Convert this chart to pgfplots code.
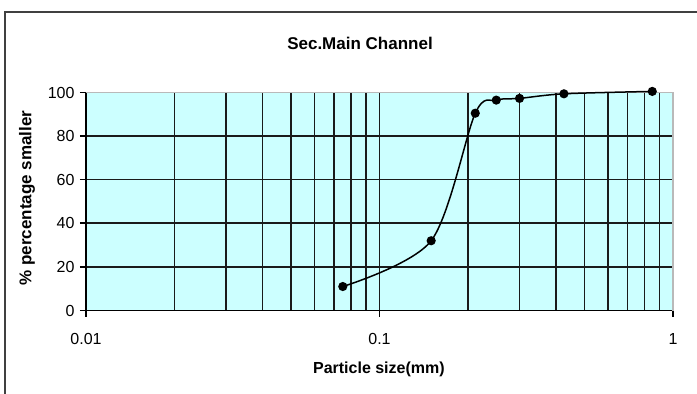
\documentclass[border=0pt]{standalone}
\usepackage{fontspec}
\setmainfont{Liberation Sans}
\usepackage{pgfplots}
\pgfplotsset{compat=1.18}
\definecolor{plotbg}{HTML}{CCFFFF}
\definecolor{framec}{HTML}{404040}
\definecolor{gridc}{HTML}{1A1A1A}
\begin{document}
\begin{tikzpicture}
\useasboundingbox (0pt,0pt) rectangle (697pt,394pt);
\draw[line width=1.5pt, framec] (5pt,-10pt) -- (5pt,382pt) -- (710pt,382pt);
\begin{axis}[
  at={(86pt,83.5pt)}, anchor=south west,
  scale only axis, width=587pt, height=218pt,
  xmode=log, xmin=0.01, xmax=1, ymin=0, ymax=100,
  clip=false,
  xtick={0.01,0.1,1}, xticklabels={0.01,0.1,1},
  minor xtick={0.02,0.03,0.04,0.05,0.06,0.07,0.08,0.09,0.2,0.3,0.4,0.5,0.6,0.7,0.8,0.9},
  ytick={0,20,40,60,80,100},
  grid=both,
  major grid style={gridc, line width=1.6pt},
  minor grid style={gridc, line width=1.6pt},
  axis background/.style={fill=plotbg},
  axis line style={black, line width=1.6pt},
  tick align=outside, xtick pos=bottom, ytick pos=left,
  major tick length=6pt, minor tick length=0pt,
  every tick/.style={black, line width=1.6pt},
  /pgf/number format/assume math mode=true,
  tick label style={font=\fontsize{16}{18}\selectfont},
  xticklabel style={yshift=-13pt},
  yticklabel style={xshift=-2pt},
  title={Sec.Main Channel},
  title style={at={(axis description cs:0.4668,1.2225)}, anchor=center, yshift=-5pt, font=\fontsize{17}{19}\selectfont\bfseries},
  xlabel={Particle size(mm)},
  xlabel style={at={(axis description cs:0.499,-0.268)}, anchor=center, font=\fontsize{16}{18}\selectfont\bfseries},
  ylabel={\% percentage smaller},
  ylabel style={at={(axis description cs:-0.1005,0.516)}, anchor=center, font=\fontsize{17}{19}\selectfont\bfseries},
]
\draw[gray!55, line width=1.5pt] (rel axis cs:0,1) -- (rel axis cs:1,1) -- (rel axis cs:1,0);
\addplot[black, line width=1.5pt, smooth, mark=*, mark size=3.8pt, mark options={solid, fill=black}] coordinates {
(0.075,11) (0.15,32) (0.212,90.5) (0.25,96.5) (0.3,97.3) (0.425,99.4) (0.85,100.5)
};
\end{axis}
\end{tikzpicture}
\end{document}
